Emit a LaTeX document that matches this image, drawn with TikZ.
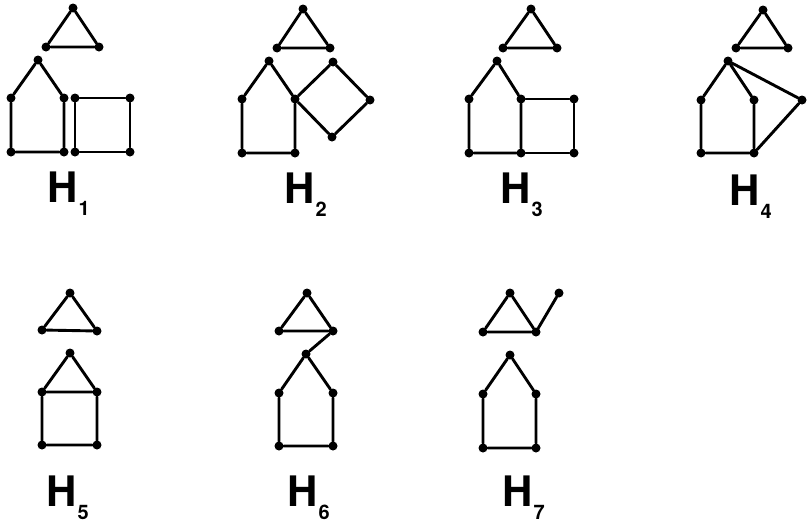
\documentclass[tikz,border=0pt]{standalone}
\usepackage{fontspec}
\setmainfont{TeX Gyre Heros}
\begin{document}
\begin{tikzpicture}[x=1pt,y=-1pt,
  v/.style={circle,fill=black,inner sep=0pt,minimum size=9pt},
  edge/.style={line width=2.9pt,line cap=round,line join=round},
  lab/.style={anchor=base west,inner sep=0pt,font=\fontsize{42}{42}\selectfont\bfseries}]
\useasboundingbox (0,0) rectangle (810,530);
\newcommand{\hsub}[1]{H\kern1pt\raisebox{-13pt}{\fontsize{20}{20}\selectfont\bfseries #1}}
% ---------- H1
\node[v] (a1) at (73,8) {}; \node[v] (a2) at (46,47) {}; \node[v] (a3) at (99,47) {};
\node[v] (b1) at (38,60) {}; \node[v] (b2) at (11,98) {}; \node[v] (b3) at (64,98) {};
\node[v] (b4) at (11,152) {}; \node[v] (b5) at (64,152) {};
\node[v] (c1) at (75,98) {}; \node[v] (c2) at (130,98) {}; \node[v] (c3) at (130,152) {}; \node[v] (c4) at (75,152) {};
\draw[edge] (a1) -- (a2) -- (a3) -- (a1);
\draw[edge] (b2) -- (b1) -- (b3) -- (b5) -- (b4) -- (b2);
\draw[edge] (c1) -- (c2) -- (c3) -- (c4) -- (c1);
\node[lab] (l1) at (47,202) {\hsub{1}};
% ---------- H2
\node[v] (d1) at (303,9) {}; \node[v] (d2) at (277,48) {}; \node[v] (d3) at (330,48) {};
\node[v] (e1) at (269,61) {}; \node[v] (e2) at (242,99) {}; \node[v] (e3) at (295,99) {};
\node[v] (e4) at (242,153) {}; \node[v] (e5) at (295,153) {};
\node[v] (f1) at (333,62) {}; \node[v] (f2) at (370,100) {}; \node[v] (f3) at (332,137) {};
\draw[edge] (d1) -- (d2) -- (d3) -- (d1);
\draw[edge] (e2) -- (e1) -- (e3) -- (e5) -- (e4) -- (e2);
\draw[edge] (e3) -- (f1) -- (f2) -- (f3) -- (e3);
\node[lab] (l2) at (284,203) {\hsub{2}};
% ---------- H3
\node[v] (g1) at (531,9) {}; \node[v] (g2) at (503,48) {}; \node[v] (g3) at (557,48) {};
\node[v] (h1) at (497,61) {}; \node[v] (h2) at (469,99) {}; \node[v] (h3) at (521,99) {};
\node[v] (h4) at (469,153) {}; \node[v] (h5) at (521,153) {};
\node[v] (i1) at (574,99) {}; \node[v] (i2) at (574,153) {};
\draw[edge] (g1) -- (g2) -- (g3) -- (g1);
\draw[edge] (h2) -- (h1) -- (h3) -- (h5) -- (h4) -- (h2);
\draw[edge] (h3) -- (i1) -- (i2) -- (h5);
\node[lab] (l3) at (500,203) {\hsub{3}};
% ---------- H4
\node[v] (j1) at (763,10) {}; \node[v] (j2) at (736,48) {}; \node[v] (j3) at (788,48) {};
\node[v] (k1) at (728,61) {}; \node[v] (k2) at (701,100) {}; \node[v] (k3) at (754,100) {};
\node[v] (k4) at (701,153) {}; \node[v] (k5) at (754,153) {};
\node[v] (k6) at (802,100) {};
\draw[edge] (j1) -- (j2) -- (j3) -- (j1);
\draw[edge] (k2) -- (k1) -- (k3) -- (k5) -- (k4) -- (k2);
\draw[edge] (k1) -- (k6) -- (k5);
\node[lab] (l4) at (729,205) {\hsub{4}};
% ---------- H5
\node[v] (m1) at (70,293) {}; \node[v] (m2) at (42,330) {}; \node[v] (m3) at (97,331) {};
\node[v] (n1) at (70,353) {}; \node[v] (n2) at (42,392) {}; \node[v] (n3) at (97,392) {};
\node[v] (n4) at (42,445) {}; \node[v] (n5) at (97,445) {};
\draw[edge] (m1) -- (m2) -- (m3) -- (m1);
\draw[edge] (n2) -- (n1) -- (n3) -- (n5) -- (n4) -- (n2) -- (n3);
\node[lab] (l5) at (46,506) {\hsub{5}};
% ---------- H6
\node[v] (p1) at (307,293) {}; \node[v] (p2) at (279,331) {}; \node[v] (p3) at (333,331) {};
\node[v] (q1) at (306,354) {}; \node[v] (q2) at (279,393) {}; \node[v] (q3) at (333,393) {};
\node[v] (q4) at (279,446) {}; \node[v] (q5) at (333,446) {};
\draw[edge] (p1) -- (p2) -- (p3) -- (p1);
\draw[edge] (p3) -- (q1);
\draw[edge] (q2) -- (q1) -- (q3) -- (q5) -- (q4) -- (q2);
\node[lab] (l6) at (287,506) {\hsub{6}};
% ---------- H7
\node[v] (r1) at (510,293) {}; \node[v] (r2) at (483,332) {}; \node[v] (r3) at (536,332) {};
\node[v] (r4) at (559,293) {};
\node[v] (s1) at (510,355) {}; \node[v] (s2) at (483,394) {}; \node[v] (s3) at (536,394) {};
\node[v] (s4) at (483,448) {}; \node[v] (s5) at (536,448) {};
\draw[edge] (r1) -- (r2) -- (r3) -- (r1);
\draw[edge] (r3) -- (r4);
\draw[edge] (s2) -- (s1) -- (s3) -- (s5) -- (s4) -- (s2);
\node[lab] (l7) at (502,506) {\hsub{7}};
\end{tikzpicture}
\end{document}
